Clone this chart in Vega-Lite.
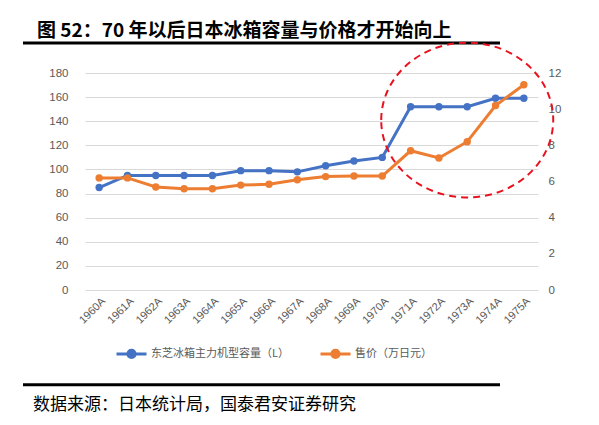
{
  "$schema": "https://vega.github.io/schema/vega-lite/v6.json",
  "width": 453,
  "height": 217,
  "autosize": {"type": "none"},
  "padding": {"left": 85, "top": 73, "right": 61, "bottom": 135},
  "background": "white",
  "config": {
    "font": "Noto Sans CJK SC",
    "view": {"stroke": null},
    "axis": {"labelColor": "#595959", "labelFont": "Liberation Sans", "domain": false, "ticks": false, "title": null}
  },
  "title": {
    "text": "图 52：70 年以后日本冰箱容量与价格才开始向上",
    "anchor": "start",
    "frame": "group",
    "dx": -48,
    "dy": 3,
    "fontSize": 19,
    "fontWeight": "bold",
    "color": "black",
    "offset": 1
  },
  "layer": [
    {
      "data": {"values": [{"note": "数据来源：日本统计局，国泰君安证券研究"}]},
      "layer": [
        {
          "mark": {"type": "rule", "color": "black", "strokeWidth": 3},
          "encoding": {
            "x": {"datum": 0, "type": "quantitative", "scale": {"domain": [0.12998, 1.07967], "zero": false, "nice": false}, "axis": null},
            "x2": {"datum": 1},
            "y": {"datum": 1, "type": "quantitative", "scale": {"domain": [0.27353, 0.91176], "zero": false, "nice": false}, "axis": null}
          }
        },
        {
          "mark": {"type": "rule", "color": "black", "strokeWidth": 3},
          "encoding": {
            "x": {"datum": 0, "type": "quantitative"},
            "x2": {"datum": 1},
            "y": {"datum": -0.005, "type": "quantitative"}
          }
        },
        {
          "mark": {"type": "text", "align": "left", "baseline": "middle", "fontSize": 17, "color": "black"},
          "encoding": {
            "x": {"datum": 0.021, "type": "quantitative"},
            "y": {"datum": -0.0647, "type": "quantitative"},
            "text": {"field": "note"}
          }
        }
      ]
    },
    {
      "data": {
        "values": [
          {"year": "1960A", "series": "东芝冰箱主力机型容量（L）", "value": 85},
          {"year": "1961A", "series": "东芝冰箱主力机型容量（L）", "value": 95},
          {"year": "1962A", "series": "东芝冰箱主力机型容量（L）", "value": 95},
          {"year": "1963A", "series": "东芝冰箱主力机型容量（L）", "value": 95},
          {"year": "1964A", "series": "东芝冰箱主力机型容量（L）", "value": 95},
          {"year": "1965A", "series": "东芝冰箱主力机型容量（L）", "value": 99},
          {"year": "1966A", "series": "东芝冰箱主力机型容量（L）", "value": 99},
          {"year": "1967A", "series": "东芝冰箱主力机型容量（L）", "value": 98},
          {"year": "1968A", "series": "东芝冰箱主力机型容量（L）", "value": 103},
          {"year": "1969A", "series": "东芝冰箱主力机型容量（L）", "value": 107},
          {"year": "1970A", "series": "东芝冰箱主力机型容量（L）", "value": 110},
          {"year": "1971A", "series": "东芝冰箱主力机型容量（L）", "value": 152},
          {"year": "1972A", "series": "东芝冰箱主力机型容量（L）", "value": 152},
          {"year": "1973A", "series": "东芝冰箱主力机型容量（L）", "value": 152},
          {"year": "1974A", "series": "东芝冰箱主力机型容量（L）", "value": 159},
          {"year": "1975A", "series": "东芝冰箱主力机型容量（L）", "value": 159},
          {"year": "1960A", "series": "售价（万日元）", "value": 6.2},
          {"year": "1961A", "series": "售价（万日元）", "value": 6.2},
          {"year": "1962A", "series": "售价（万日元）", "value": 5.7},
          {"year": "1963A", "series": "售价（万日元）", "value": 5.6},
          {"year": "1964A", "series": "售价（万日元）", "value": 5.6},
          {"year": "1965A", "series": "售价（万日元）", "value": 5.8},
          {"year": "1966A", "series": "售价（万日元）", "value": 5.85},
          {"year": "1967A", "series": "售价（万日元）", "value": 6.1},
          {"year": "1968A", "series": "售价（万日元）", "value": 6.27},
          {"year": "1969A", "series": "售价（万日元）", "value": 6.3},
          {"year": "1970A", "series": "售价（万日元）", "value": 6.3},
          {"year": "1971A", "series": "售价（万日元）", "value": 7.7},
          {"year": "1972A", "series": "售价（万日元）", "value": 7.3},
          {"year": "1973A", "series": "售价（万日元）", "value": 8.2},
          {"year": "1974A", "series": "售价（万日元）", "value": 10.2},
          {"year": "1975A", "series": "售价（万日元）", "value": 11.35}
        ]
      },
      "encoding": {
        "x": {
          "field": "year",
          "type": "ordinal",
          "scale": {"type": "point", "padding": 0.5},
          "axis": {"orient": "bottom", "labelAngle": -45, "labelFontSize": 11, "labelPadding": 5}
        }
      },
      "layer": [
        {
          "transform": [{"filter": "datum.series === '东芝冰箱主力机型容量（L）'"}],
          "mark": {"type": "line", "strokeWidth": 3, "point": {"filled": true, "size": 55}},
          "encoding": {
            "y": {
              "field": "value",
              "type": "quantitative",
              "scale": {"domain": [0, 180], "nice": false},
              "axis": {"orient": "left", "values": [0, 20, 40, 60, 80, 100, 120, 140, 160, 180], "grid": true, "gridColor": "#d9d9d9", "gridWidth": 1, "labelPadding": 17, "labelFontSize": 11.5}
            },
            "color": {
              "field": "series",
              "type": "nominal",
              "scale": {"domain": ["东芝冰箱主力机型容量（L）", "售价（万日元）"], "range": ["#4472C4", "#ED7D31"]},
              "legend": {
                "orient": "none",
                "legendX": 30,
                "legendY": 264,
                "direction": "horizontal",
                "title": null,
                "symbolType": "M-1,0L1,0M-0.24,0A0.24,0.24,0,1,1,0.24,0A0.24,0.24,0,1,1,-0.24,0Z",
                "symbolSize": 900,
                "symbolStrokeWidth": 3,
                "labelFontSize": 11,
                "labelColor": "#595959",
                "labelOffset": 3,
                "columnPadding": 25,
                "encode": {"symbols": {"update": {"fill": {"scale": "color", "field": "value"}}}}
              }
            }
          }
        },
        {
          "transform": [{"filter": "datum.series === '售价（万日元）'"}],
          "mark": {"type": "line", "strokeWidth": 3, "point": {"filled": true, "size": 55}},
          "encoding": {
            "y": {
              "field": "value",
              "type": "quantitative",
              "scale": {"domain": [0, 12], "nice": false},
              "axis": {"orient": "right", "values": [0, 2, 4, 6, 8, 10, 12], "grid": false, "labelPadding": 10, "labelFontSize": 11.5}
            },
            "color": {"field": "series", "type": "nominal"}
          }
        },
        {
          "transform": [{"filter": "datum.year === '1973A' && datum.series === '售价（万日元）'"}],
          "mark": {
            "type": "point",
            "shape": "M-1,0A1,0.9,0,1,1,1,0A1,0.9,0,1,1,-1,0Z",
            "size": 29584,
            "filled": false,
            "stroke": "#E8121F",
            "strokeWidth": 2,
            "strokeDash": [7, 5],
            "opacity": 1,
            "dx": -5
          },
          "encoding": {
            "y": {"datum": 141, "type": "quantitative", "scale": {"domain": [0, 180], "nice": false}, "axis": null}
          }
        }
      ],
      "resolve": {"scale": {"y": "independent"}}
    }
  ],
  "resolve": {"scale": {"x": "independent", "y": "independent"}}
}
